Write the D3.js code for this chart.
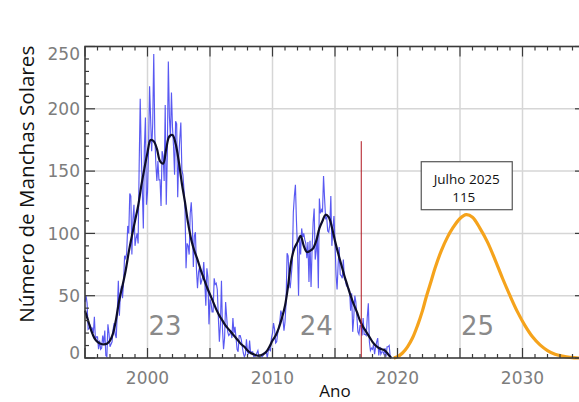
<!DOCTYPE html>
<html>
<head>
<meta charset="utf-8">
<script src="https://cdn.jsdelivr.net/npm/d3@7"></script>
<style>
  html, body { margin: 0; padding: 0; background: #fff; }
  svg { display: block; }
</style>
</head>
<body>
<svg id="chart" width="579" height="402"></svg>
<script>
// Monthly mean sunspot number, one value per month starting January 1995
const monthlyStartYear = 1995;
const monthlySpots = [
  // 1995
  45, 50, 44, 23, 24, 26, 24, 24, 20, 33, 15, 17,
  // 1996
  17, 7, 14, 7, 8, 18, 12, 22, 2, 1, 27, 20,
  // 1997
  9, 11, 13, 23, 28, 19, 16, 37, 62, 34, 52, 58,
  // 1998
  48, 60, 82, 80, 84, 106, 100, 132, 130, 83, 111, 123,
  // 1999
  90, 96, 100, 92, 154, 208, 165, 136, 104, 169, 193, 123,
  // 2000
  133, 166, 218, 192, 166, 188, 244, 180, 156, 142, 158, 143,
  // 2001
  143, 122, 166, 162, 142, 203, 123, 162, 238, 194, 177, 213,
  // 2002
  185, 170, 147, 190, 188, 129, 161, 176, 189, 151, 147, 135,
  // 2003
  120, 72, 92, 90, 83, 116, 125, 109, 73, 98, 101, 71,
  // 2004
  56, 69, 73, 59, 62, 65, 77, 61, 42, 72, 65, 27,
  // 2005
  47, 44, 37, 37, 64, 59, 60, 55, 33, 13, 27, 62,
  // 2006
  23, 7, 16, 45, 33, 21, 18, 19, 22, 16, 32, 20,
  // 2007
  25, 16, 7, 5, 18, 18, 15, 9, 4, 1, 3, 15,
  // 2008
  5, 3, 14, 4, 5, 5, 1, 1, 2, 4, 6, 1,
  // 2009
  2, 2, 1, 2, 4, 4, 5, 0, 6, 7, 6, 16,
  // 2010
  20, 28, 23, 12, 13, 20, 24, 29, 38, 35, 32, 22,
  // 2011
  29, 44, 84, 82, 62, 56, 66, 76, 117, 130, 139, 110,
  // 2012
  87, 50, 96, 83, 104, 97, 100, 95, 92, 80, 93, 61,
  // 2013
  94, 57, 87, 109, 120, 79, 86, 99, 56, 128, 116, 119,
  // 2014
  117, 146, 128, 112, 113, 102, 101, 107, 130, 90, 104, 114,
  // 2015
  93, 67, 55, 75, 89, 67, 66, 64, 79, 64, 62, 58,
  // 2016
  57, 56, 54, 38, 52, 21, 32, 50, 45, 33, 21, 19,
  // 2017
  26, 26, 18, 32, 19, 19, 18, 33, 44, 13, 6, 8,
  // 2018
  7, 11, 3, 9, 13, 16, 2, 9, 3, 5, 5, 3,
  // 2019
  8, 1, 9, 9, 10, 1, 1
];

// 13-month smoothed sunspot number (cycles 23 and 24)
const smoothYears = [
  1995.0, 1995.25, 1995.5, 1995.75, 1996.0, 1996.25, 1996.5, 1996.75,
  1997.0, 1997.25, 1997.5, 1997.75, 1998.0, 1998.25, 1998.5, 1998.75,
  1999.0, 1999.25, 1999.5, 1999.75, 2000.0, 2000.25, 2000.5, 2000.75,
  2001.0, 2001.25, 2001.5, 2001.75, 2002.0, 2002.25, 2002.5, 2002.75,
  2003.0, 2003.25, 2003.5, 2003.75, 2004.0, 2004.25, 2004.5, 2004.75,
  2005.0, 2005.25, 2005.5, 2005.75, 2006.0, 2006.25, 2006.5, 2006.75,
  2007.0, 2007.25, 2007.5, 2007.75, 2008.0, 2008.25, 2008.5, 2008.75,
  2009.0, 2009.25, 2009.5, 2009.75, 2010.0, 2010.25, 2010.5, 2010.75,
  2011.0, 2011.25, 2011.5, 2011.75, 2012.0, 2012.25, 2012.5, 2012.75,
  2013.0, 2013.25, 2013.5, 2013.75, 2014.0, 2014.25, 2014.5, 2014.75,
  2015.0, 2015.25, 2015.5, 2015.75, 2016.0, 2016.25, 2016.5, 2016.75,
  2017.0, 2017.25, 2017.5, 2017.75, 2018.0, 2018.25, 2018.5, 2018.75,
  2019.0, 2019.25, 2019.5
];
const smoothSpots = [
  38, 30, 22, 16, 13, 11.5, 11, 11.5,
  14, 20, 32, 47, 58, 70, 85, 98,
  110, 122, 138, 152, 165, 175, 174, 168,
  158, 156, 168, 178, 179, 172, 158, 140,
  125, 108, 95, 86, 79, 71, 64, 57,
  51, 45, 39, 34, 30, 26, 23, 20,
  17, 14, 11, 9, 6, 4, 3, 2,
  2, 3, 5, 9, 14, 18, 24, 32,
  42, 58, 78, 88, 93, 98, 90, 85,
  86, 88, 94, 104, 110, 115, 113, 105,
  94, 84, 75, 66, 58, 50, 43, 37,
  30, 25, 21, 17, 13, 10, 8, 7,
  6, 3, 0
];

// Predicted cycle 25 (peak July 2025)
const forecastYears = [
  2019.7, 2020.0, 2020.4, 2020.8, 2021.2, 2021.6, 2022.0, 2022.3, 2022.7,
  2023.0, 2023.5, 2024.0, 2024.4, 2025.0, 2025.5, 2026.0, 2026.6, 2027.2,
  2027.8, 2028.4, 2029.0, 2029.6, 2030.2, 2030.8, 2031.4, 2032.0, 2032.6,
  2033.2, 2033.8, 2034.5, 2035.0
];
const forecastSpots = [
  0, 1, 4, 9, 16, 26, 38, 49, 62,
  72, 86, 97, 104, 112, 115, 113, 104, 93,
  79, 64, 50, 37, 26, 17, 10.5, 6, 3,
  1.5, 0.5, 0, 0
];

// Peak annotation
const peakLabel = ["Julho 2025", "115"];
const peakYear = 2025.5;
const peakValue = 115;

// Vertical marker
const markerYear = 2017.1;
const markerTop = 174;

// Cycle numbers
const cycleNames = ["23", "24", "25"];
const cycleYears = [2001.4, 2013.5, 2026.4];
const cycleLabelValue = 18.5;

// Axes
const xMajorTicks = [1995, 2000, 2005, 2010, 2015, 2020, 2025, 2030, 2035];
const xLabelTicks = [2000, 2010, 2020, 2030];
const yMajorTicks = [0, 50, 100, 150, 200, 250];
const xTitle = "Ano";
const yTitle = "Número de Manchas Solares";

(function draw() {
  const svg = d3.select("#chart");
  const pLeft = 85, pRight = 585, pTop = 46.5, pBottom = 358;

  const x = d3.scaleLinear().domain([1995, 2035]).range([pLeft, pRight]);
  const y = d3.scaleLinear().domain([0, 250]).range([pBottom, pTop]);

  const tickFont = "'DejaVu Sans', sans-serif";
  const tickColor = "#7d7d7d";

  // Grid
  const grid = svg.append("g");
  grid.selectAll("line.vx")
    .data(xMajorTicks.filter(d => d > 1995 && d < 2035))
    .join("line")
    .attr("x1", d => x(d)).attr("x2", d => x(d))
    .attr("y1", pTop).attr("y2", pBottom)
    .attr("stroke", "#d6d6d6").attr("stroke-width", 1.5);
  grid.selectAll("line.hy")
    .data(yMajorTicks.filter(d => d > 0 && d < 250))
    .join("line")
    .attr("x1", pLeft).attr("x2", pRight)
    .attr("y1", d => y(d)).attr("y2", d => y(d))
    .attr("stroke", "#d6d6d6").attr("stroke-width", 1.5);

  // Cycle numbers
  svg.append("g").selectAll("text")
    .data(cycleNames)
    .join("text")
    .attr("x", (d, i) => x(cycleYears[i]))
    .attr("y", y(cycleLabelValue))
    .attr("text-anchor", "middle")
    .attr("font-family", tickFont)
    .attr("font-size", 26)
    .attr("fill", "#8a8a8a")
    .text(d => d);

  // Monthly values
  const monthly = monthlySpots.map((v, i) => [monthlyStartYear + i / 12, v]);
  svg.append("path")
    .datum(monthly)
    .attr("fill", "none")
    .attr("stroke", "#3c3cf0")
    .attr("stroke-opacity", 0.85)
    .attr("stroke-width", 1.15)
    .attr("d", d3.line().x(d => x(d[0])).y(d => y(d[1])));

  // Smoothed values
  svg.append("path")
    .datum(smoothYears.map((t, i) => [t, smoothSpots[i]]))
    .attr("fill", "none")
    .attr("stroke", "#0e0e2a")
    .attr("stroke-width", 2.2)
    .attr("stroke-linejoin", "round")
    .attr("d", d3.line().curve(d3.curveCatmullRom.alpha(0.5)).x(d => x(d[0])).y(d => y(d[1])));

  // Forecast
  svg.append("path")
    .datum(forecastYears.map((t, i) => [t, forecastSpots[i]]))
    .attr("fill", "none")
    .attr("stroke", "#f5a31c")
    .attr("stroke-width", 3.2)
    .attr("stroke-linejoin", "round")
    .attr("d", d3.line().curve(d3.curveCatmullRom.alpha(0.5)).x(d => x(d[0])).y(d => y(d[1])));

  // Vertical marker
  svg.append("line")
    .attr("x1", x(markerYear)).attr("x2", x(markerYear))
    .attr("y1", y(markerTop)).attr("y2", y(0))
    .attr("stroke", "#b0141e").attr("stroke-width", 1);

  // Frame and ticks (inward, on all four sides)
  const frame = svg.append("g").attr("stroke", "#3a3a3a");
  const xMinor = d3.range(1995, 2036, 1);
  const yMinor = d3.range(0, 251, 10);
  const xTickLen = d => (xMajorTicks.includes(d) ? 10 : 4);
  const yTickLen = d => (yMajorTicks.includes(d) ? 10 : 4);

  frame.selectAll("line.bt").data(xMinor).join("line")
    .attr("x1", d => x(d)).attr("x2", d => x(d))
    .attr("y1", pBottom).attr("y2", d => pBottom - xTickLen(d))
    .attr("stroke-width", 1.2);
  frame.selectAll("line.tt").data(xMinor).join("line")
    .attr("x1", d => x(d)).attr("x2", d => x(d))
    .attr("y1", pTop).attr("y2", d => pTop + xTickLen(d))
    .attr("stroke-width", 1.2);
  frame.selectAll("line.lt").data(yMinor).join("line")
    .attr("x1", pLeft).attr("x2", d => pLeft + yTickLen(d))
    .attr("y1", d => y(d)).attr("y2", d => y(d))
    .attr("stroke-width", 1.2);
  frame.selectAll("line.rt").data(yMinor).join("line")
    .attr("x1", pRight).attr("x2", d => pRight - yTickLen(d))
    .attr("y1", d => y(d)).attr("y2", d => y(d))
    .attr("stroke-width", 1.2);

  frame.append("rect")
    .attr("x", pLeft).attr("y", pTop)
    .attr("width", pRight - pLeft).attr("height", pBottom - pTop)
    .attr("fill", "none").attr("stroke-width", 1.6);

  // Tick labels
  svg.append("g").selectAll("text")
    .data(xLabelTicks)
    .join("text")
    .attr("x", d => x(d))
    .attr("y", pBottom + 26)
    .attr("text-anchor", "middle")
    .attr("font-family", tickFont)
    .attr("font-size", 17)
    .attr("fill", tickColor)
    .text(d => d);

  svg.append("g").selectAll("text")
    .data(yMajorTicks)
    .join("text")
    .attr("x", pLeft - 5)
    .attr("y", d => Math.min(Math.max(y(d), pTop + 7), pBottom - 5.5))
    .attr("dy", "0.36em")
    .attr("text-anchor", "end")
    .attr("font-family", tickFont)
    .attr("font-size", 17)
    .attr("fill", tickColor)
    .text(d => d);

  // Axis titles
  svg.append("text")
    .attr("transform", `translate(34,${(pTop + pBottom) / 2 - 18}) rotate(-90)`)
    .attr("text-anchor", "middle")
    .attr("font-family", "'Open Sans', sans-serif")
    .attr("font-size", 20)
    .attr("textLength", 277)
    .attr("lengthAdjust", "spacingAndGlyphs")
    .attr("fill", "#111")
    .text(yTitle);

  svg.append("text")
    .attr("x", 335)
    .attr("y", 397)
    .attr("text-anchor", "middle")
    .attr("font-family", "'Open Sans', sans-serif")
    .attr("font-size", 17)
    .attr("fill", "#111")
    .text(xTitle);

  // Peak annotation box
  const boxW = 91, boxH = 48;
  const bx = x(peakYear) - boxW / 2 + 0.5;
  const by = y(peakValue) - 5 - boxH;
  const ann = svg.append("g");
  ann.append("rect")
    .attr("x", bx).attr("y", by)
    .attr("width", boxW).attr("height", boxH)
    .attr("fill", "#fff")
    .attr("stroke", "#555").attr("stroke-width", 1.2);
  ann.selectAll("text")
    .data(peakLabel)
    .join("text")
    .attr("x", (d, i) => bx + boxW / 2 - (i === 0 ? 0 : 3))
    .attr("y", (d, i) => by + 22 + i * 18.5)
    .attr("text-anchor", "middle")
    .attr("font-family", "'Open Sans', sans-serif")
    .attr("font-size", 13.5)
    .attr("fill", "#111")
    .text(d => d);
})();
</script>
</body>
</html>
